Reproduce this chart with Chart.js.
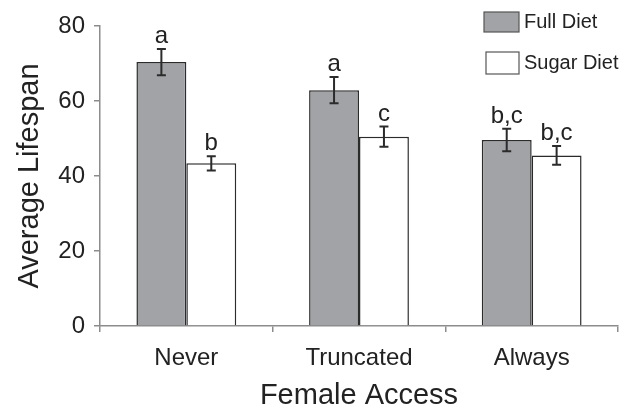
<!DOCTYPE html>
<html>
<head>
<meta charset="utf-8">
<script src="https://cdn.jsdelivr.net/npm/chart.js@4"></script>
<style>
  html, body { margin: 0; padding: 0; background: #fff; }
  #wrap { width: 633px; height: 410px; position: relative; }
</style>
</head>
<body>
<div id="wrap"><canvas id="chart"></canvas></div>
<script>
const categories = ['Never', 'Truncated', 'Always'];
const fullDiet = [70.4, 62.9, 49.6];
const sugarDiet = [43.4, 50.5, 45.5];
const fullErr = [3.5, 3.5, 3.0];
const sugarErr = [1.9, 2.7, 2.5];
const fullLetters = ['a', 'a', 'b,c'];
const sugarLetters = ['b', 'c', 'b,c'];
const seriesNames = ['Full Diet', 'Sugar Diet'];
const yTicks = [0, 20, 40, 60, 80];

const FONT = '"Liberation Sans", Arial, sans-serif';
const GRAY = '#a2a3a6';
const INK = '#2b2b2b';
const AXIS = '#8c8c8c';

const errors = [fullErr, sugarErr];
const letters = [fullLetters, sugarLetters];

// error bars + significance letters
const errorBars = {
    id: 'errorBars',
    afterDatasetsDraw(chart) {
        const ctx = chart.ctx;
        const y = chart.scales.y;
        ctx.save();
        chart.data.datasets.forEach((ds, di) => {
            const meta = chart.getDatasetMeta(di);
            meta.data.forEach((bar, i) => {
                const v = ds.data[i];
                const e = errors[di][i];
                const top = y.getPixelForValue(v + e);
                const bot = y.getPixelForValue(v - e);
                const x = bar.x;
                ctx.strokeStyle = INK;
                ctx.lineWidth = 2;
                ctx.beginPath();
                ctx.moveTo(x, top); ctx.lineTo(x, bot);
                ctx.moveTo(x - 4.5, top); ctx.lineTo(x + 4.5, top);
                ctx.moveTo(x - 4.5, bot); ctx.lineTo(x + 4.5, bot);
                ctx.stroke();

                ctx.fillStyle = '#222';
                ctx.font = '24px ' + FONT;
                ctx.textAlign = 'center';
                ctx.textBaseline = 'alphabetic';
                ctx.fillText(letters[di][i], x, top - 6);
            });
        });
        ctx.restore();
    },
    afterDraw(chart) {
        const ctx = chart.ctx;
        ctx.save();
        ctx.lineWidth = 1.2;
        ctx.strokeStyle = '#555';
        ctx.fillStyle = GRAY;
        ctx.fillRect(484, 12, 35, 20);
        ctx.strokeRect(484, 12, 35, 20);
        ctx.fillStyle = '#fff';
        ctx.fillRect(486, 52, 33, 22);
        ctx.strokeRect(486, 52, 33, 22);
        ctx.fillStyle = '#222';
        ctx.font = '20px ' + FONT;
        ctx.textAlign = 'left';
        ctx.textBaseline = 'middle';
        ctx.fillText(seriesNames[0], 524, 22);
        ctx.fillText(seriesNames[1], 524, 63);
        ctx.restore();
    }
};

new Chart(document.getElementById('chart'), {
    type: 'bar',
    data: {
        labels: categories,
        datasets: [{
            label: seriesNames[0],
            data: fullDiet,
            backgroundColor: GRAY,
            borderColor: INK,
            borderWidth: 1.5,
            categoryPercentage: 0.578,
            barPercentage: 1
        }, {
            label: seriesNames[1],
            data: sugarDiet,
            backgroundColor: '#ffffff',
            borderColor: INK,
            borderWidth: 1.5,
            categoryPercentage: 0.578,
            barPercentage: 1
        }]
    },
    options: {
        responsive: true,
        maintainAspectRatio: false,
        animation: false,
        layout: {
            padding: { top: 26, right: 15, left: 0, bottom: 0 }
        },
        scales: {
            x: {
                afterFit: (s) => { s.height = 84; },
                border: { display: true, color: AXIS, width: 1.5 },
                grid: {
                    display: true,
                    drawOnChartArea: false,
                    drawTicks: true,
                    tickLength: 6,
                    color: AXIS,
                    lineWidth: 1.5,
                    offset: true
                },
                ticks: {
                    color: '#222',
                    padding: 12,
                    font: { family: FONT, size: 24 }
                },
                title: {
                    display: true,
                    text: 'Female Access',
                    color: '#222',
                    font: { family: FONT, size: 29 },
                    padding: { top: 0, bottom: -3 }
                }
            },
            y: {
                min: 0,
                max: 80,
                afterFit: (s) => { s.width = 100; },
                afterBuildTicks: (s) => { s.ticks = yTicks.map(v => ({ value: v })); },
                border: { display: true, color: AXIS, width: 1.5 },
                grid: {
                    display: true,
                    drawOnChartArea: false,
                    drawTicks: true,
                    tickLength: 6,
                    color: AXIS,
                    lineWidth: 1.5
                },
                ticks: {
                    color: '#222',
                    padding: 9,
                    font: { family: FONT, size: 24 }
                },
                title: {
                    display: true,
                    text: 'Average Lifespan',
                    color: '#222',
                    font: { family: FONT, size: 29 },
                    padding: { top: 13, bottom: 0 }
                }
            }
        },
        plugins: {
            legend: { display: false },
            tooltip: { enabled: false }
        }
    },
    plugins: [errorBars]
});
</script>
</body>
</html>
